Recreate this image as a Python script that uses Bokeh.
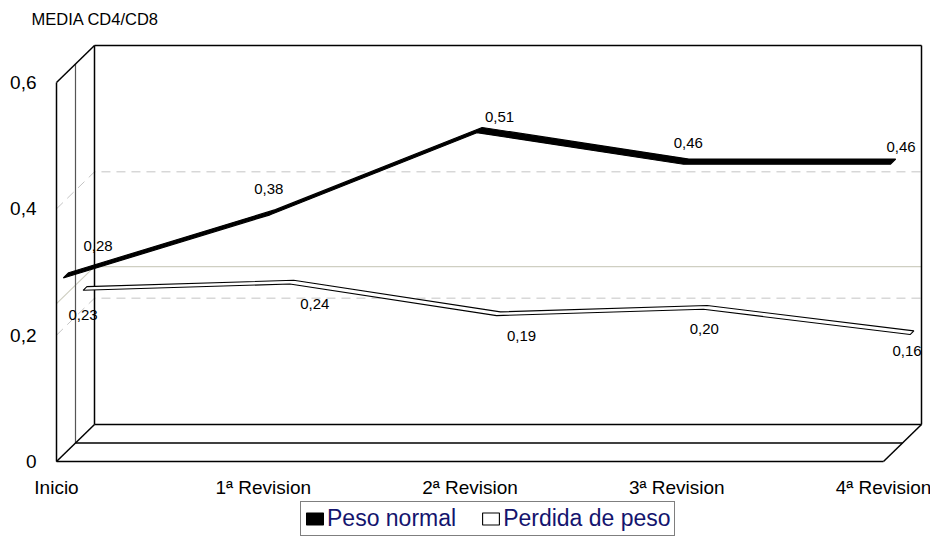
from bokeh.plotting import figure
from bokeh.models import Range1d, Legend, LegendItem, ColumnDataSource
from bokeh.core.properties import value
from bokeh.embed import file_html
from bokeh.resources import INLINE

# ---------------- data ----------------
categories = ["Inicio", "1ª Revision", "2ª Revision", "3ª Revision", "4ª Revision"]
peso_normal = [0.28, 0.38, 0.51, 0.46, 0.46]
perdida_peso = [0.23, 0.24, 0.19, 0.20, 0.16]
series_names = ["Peso normal", "Perdida de peso"]
y_ticks = [0, 0.2, 0.4, 0.6]
y_tick_labels = ["0", "0,2", "0,4", "0,6"]
dashed_grid = [0.2, 0.4]
solid_grid = [0.25]
title_text = "MEDIA CD4/CD8"

# label nudges (screen px) for data labels
normal_dx = [32, -4, 20, 2, 8]
normal_dy = [-29, -23, -13, -19, -15]
perdida_dx = [-2, 23, 23, -1, -5]
perdida_dy = [27, 22, 22, 22, 18]

# ---------------- geometry ----------------
FONT = "Liberation Sans"
W, H = 930, 537
PX_CAT = 206.75          # px per category step
PX_VAL = 631.67          # px per value unit
X_PAD = 56               # px from canvas left to first category
Y_PAD = 76               # px from canvas bottom to zero
DX = 38 / PX_CAT         # full depth in category units
DY = 37 / PX_VAL         # full depth in value units

x_start = -X_PAD / PX_CAT
y_start = -Y_PAD / PX_VAL

p = figure(width=W, height=H, output_backend="svg", toolbar_location=None,
           x_range=Range1d(x_start, x_start + W / PX_CAT),
           y_range=Range1d(y_start, y_start + H / PX_VAL),
           min_border=0, x_axis_location=None, y_axis_location=None,
           background_fill_color="white", border_fill_color="white")
p.outline_line_color = None
p.xgrid.visible = False
p.ygrid.visible = False

x0, x1 = 0, len(categories) - 1
y0, y1 = 0, max(y_ticks)


def proj(x, y, d):
    return x + d * DX, y + d * DY


# gridlines on walls
def wall_line(v):
    pts = [proj(x0, v, 0), proj(x0, v, 1), proj(x1, v, 1)]
    return [a for a, b in pts], [b for a, b in pts]

gx, gy = zip(*[wall_line(v) for v in dashed_grid])
p.multi_line(list(gx), list(gy), line_color="#c4c4c4", line_width=1, line_dash="9 6")
sx, sy = zip(*[wall_line(v) for v in solid_grid])
p.multi_line(list(sx), list(sy), line_color="#cfcfc2", line_width=1.2)

# 3D frame
black_segs = []
gray_segs = []
for d in [0, 0.5, 1]:
    seg_v = [proj(x0, y0, d), proj(x0, y1, d)]
    seg_f = [proj(x0, y0, d), proj(x1, y0, d)]
    (gray_segs if d == 0.5 else black_segs).append(seg_v)
    black_segs.append(seg_f)
black_segs.append([proj(x0, y1, 0), proj(x0, y1, 1)])
black_segs.append([proj(x0, y0, 0), proj(x0, y0, 1)])
black_segs.append([proj(x1, y0, 0), proj(x1, y0, 1)])
black_segs.append([proj(x0, y1, 1), proj(x1, y1, 1)])
black_segs.append([proj(x1, y0, 1), proj(x1, y1, 1)])

p.multi_line([[a for a, b in s] for s in gray_segs], [[b for a, b in s] for s in gray_segs],
             line_color="#555555", line_width=1.2)
p.multi_line([[a for a, b in s] for s in black_segs], [[b for a, b in s] for s in black_segs],
             line_color="black", line_width=1.5)


# ribbons
def ribbon(vals, c, h):
    front = [proj(k, v, c - h) for k, v in enumerate(vals)]
    back = [proj(k, v, c + h) for k, v in enumerate(vals)][::-1]
    pts = front + back
    return [a for a, b in pts], [b for a, b in pts]

rx2, ry2 = ribbon(perdida_peso, 0.75, 0.05)
r_perd = p.patch(rx2, ry2, fill_color="white", line_color="black", line_width=1.1)
rx1, ry1 = ribbon(peso_normal, 0.25, 0.07)
r_norm = p.patch(rx1, ry1, fill_color="black", line_color="black", line_width=1.2)


def fmt(v):
    return f"{v:.2f}".replace(".", ",")


def labels(vals, c, dxs, dys):
    pts = [proj(k, v, c) for k, v in enumerate(vals)]
    src = ColumnDataSource(dict(x=[a for a, b in pts], y=[b for a, b in pts],
                                t=[fmt(v) for v in vals], dx=dxs, dy=dys))
    p.text(x="x", y="y", text="t", x_offset="dx", y_offset="dy", source=src,
           text_font=value(FONT), text_font_size="15px", text_color="black",
           text_align="center", text_baseline="middle")

labels(peso_normal, 0.25, normal_dx, normal_dy)
labels(perdida_peso, 0.75, perdida_dx, perdida_dy)

# value axis labels (front plane)
p.text(x=[x0] * len(y_ticks), y=y_ticks, text=y_tick_labels, x_offset=-20,
       text_font=value(FONT), text_font_size="19px", text_color="black",
       text_align="right", text_baseline="middle")
# category axis labels
p.text(x=list(range(len(categories))), y=[y0] * len(categories), text=categories, y_offset=26,
       text_font=value(FONT), text_font_size="19px", text_color="black",
       text_align="center", text_baseline="middle")
# title
p.text(x=[x0], y=[y1], text=[title_text], x_offset=-25, y_offset=-63,
       text_font=value(FONT), text_font_size="16.5px", text_color="black",
       text_align="left", text_baseline="middle")

legend = Legend(items=[LegendItem(label=series_names[0], renderers=[r_norm]),
                       LegendItem(label=series_names[1], renderers=[r_perd])],
                orientation="horizontal", location=(300, 1))
legend.label_text_font = FONT
legend.label_text_font_size = "23px"
legend.label_text_color = "#14146e"
legend.label_height = 22
legend.glyph_width = 21
legend.glyph_height = 15
legend.label_standoff = 2
legend.spacing = 24
legend.padding = 3
legend.margin = 0
legend.border_line_color = "black"
legend.border_line_width = 1
legend.background_fill_alpha = 1
p.add_layout(legend, "center")

open("out.html", "w").write(file_html(p, INLINE))
